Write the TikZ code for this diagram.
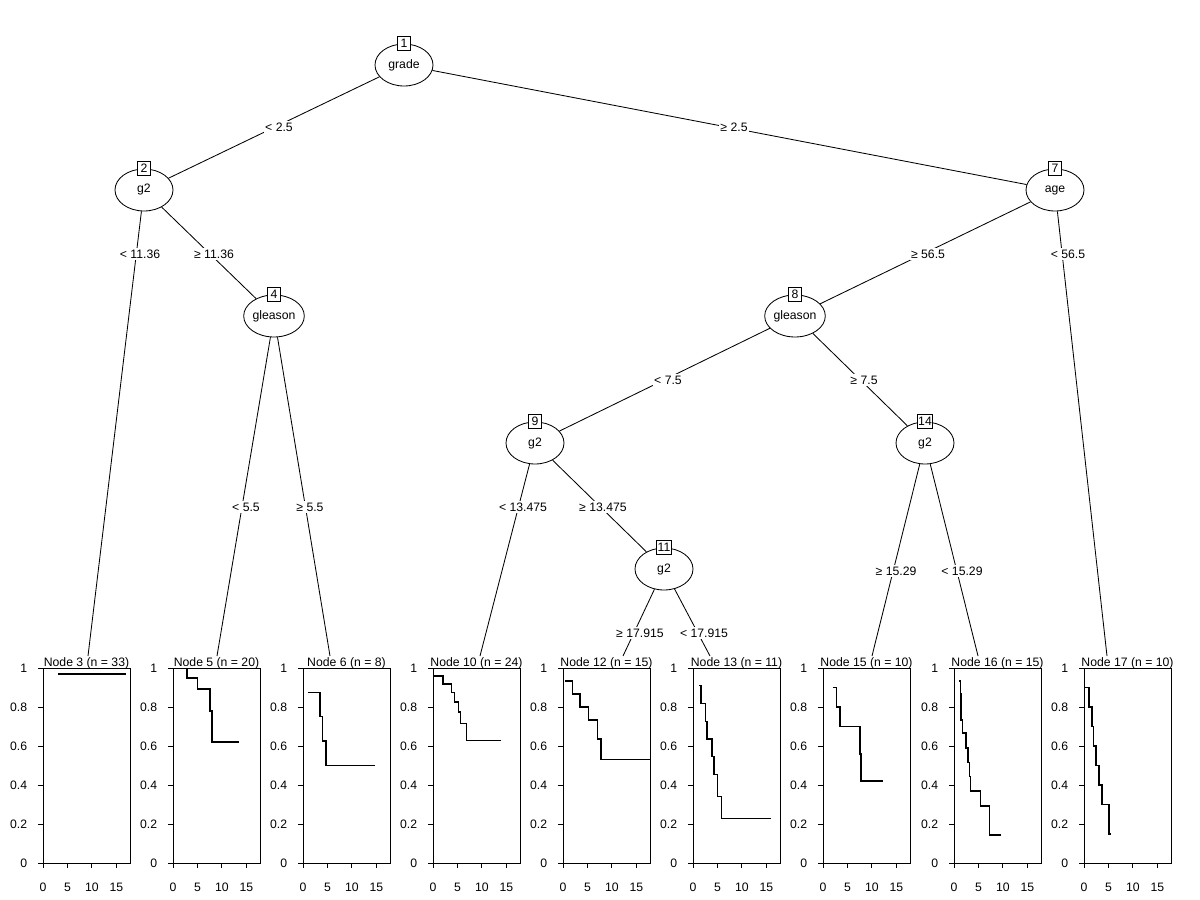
\documentclass[tikz,border=0pt]{standalone}
\usepackage{fontspec}
\setmainfont{Liberation Sans}
\usetikzlibrary{shapes.geometric, positioning}
\tikzset{
    % tree nodes
    splitnode/.style={
        ellipse,
        draw,
        line width=0.6pt,
        minimum width=14.5mm,
        minimum height=10.5mm,
        inner sep=0pt
    },
    idbox/.style={
        rectangle,
        draw,
        fill=white,
        line width=0.6pt,
        minimum size=3.4mm,
        inner sep=0.6pt
    },
    edge/.style={
        line width=0.6pt
    },
    edgelabel/.style={
        fill=white,
        inner sep=1pt
    },
    % terminal panels
    paneltitle/.style={
        anchor=base,
        inner sep=1pt
    },
    panelbox/.style={
        line width=0.7pt
    },
    ticklabel/.style={
        inner sep=0pt
    },
    kmcurve/.style={
        line width=1pt,
        line join=miter
    }
}
% one Kaplan-Meier panel: left edge (px), node id, n, step curve
\newcommand{\kmpanel}[4]{%
    \node[paneltitle] (t#2) at (#1+43.5,666) {Node #2 (n = #3)};
    \draw[panelbox] (#1,668) rectangle (#1+87,863);
    \foreach \v [count=\i] in {0,0.2,0.4,0.6,0.8,1}
        \draw[panelbox] (#1,863-195*\v) -- ++(-5,0) node[ticklabel, left=2.6mm] (y#2-\i) {\v};
    \foreach \t [count=\i] in {0,5,10,15}
        \draw[panelbox] (#1+4.89*\t,863) -- ++(0,5) node[ticklabel, below=3.6mm] (x#2-\i) {\t};
    \begin{scope}[shift={(#1,863)}, x=1.2225mm, y=48.75mm]
        \draw[kmcurve] #4;
    \end{scope}
}

\begin{document}
\begin{tikzpicture}[x=0.25mm, y=-0.25mm, font=\fontsize{8.7}{10}\selectfont]
    \useasboundingbox (0,0) rectangle (1200,900);

    % inner nodes
    \node[splitnode] (n1) at (404,65) {grade};
    \node[idbox] (id1) at (n1.north) {1};
    \node[splitnode] (n2) at (144,190) {g2};
    \node[idbox] (id2) at (n2.north) {2};
    \node[splitnode] (n7) at (1055,190) {age};
    \node[idbox] (id7) at (n7.north) {7};
    \node[splitnode] (n4) at (274,316) {gleason};
    \node[idbox] (id4) at (n4.north) {4};
    \node[splitnode] (n8) at (795,316) {gleason};
    \node[idbox] (id8) at (n8.north) {8};
    \node[splitnode] (n9) at (535,443) {g2};
    \node[idbox] (id9) at (n9.north) {9};
    \node[splitnode] (n14) at (925,443) {g2};
    \node[idbox] (id14) at (n14.north) {14};
    \node[splitnode] (n11) at (664,569) {g2};
    \node[idbox] (id11) at (n11.north) {11};

    % terminal nodes
    \kmpanel{43}{3}{33}{(3.07,0.970) -- (16.9,0.970)}
    \kmpanel{173}{5}{20}{(2.86,1) -- (2.86,0.949) -| (4.98,0.892) -| (7.57,0.779) -| (7.98,0.621) -- (13.5,0.621)}
    \kmpanel{303}{6}{8}{(1.02,0.875) -| (3.48,0.75) -| (4.02,0.625) -| (4.7,0.5) -- (14.66,0.5)}
    \kmpanel{433}{10}{24}{(0.27,0.958) -| (2.05,0.917) -| (3.75,0.875) -| (4.43,0.826) -| (5.25,0.774) -| (5.66,0.715) -| (6.82,0.627) -- (13.98,0.627)}
    \kmpanel{563}{12}{15}{(0.48,0.933) -| (1.98,0.867) -| (3.48,0.8) -| (5.25,0.733) -| (7.09,0.636) -| (7.77,0.53) -- (17.8,0.53)}
    \kmpanel{693}{13}{11}{(1.23,0.909) -| (1.64,0.818) -| (2.59,0.727) -| (2.86,0.636) -| (3.89,0.545) -| (4.3,0.455) -| (4.98,0.341) -| (5.8,0.227) -- (16,0.227)}
    \kmpanel{823}{15}{10}{(2.03,0.9) -| (2.7,0.8) -| (3.51,0.7) -| (7.57,0.56) -| (7.77,0.42) -- (12.3,0.42)}
    \kmpanel{954}{16}{15}{(1.09,0.933) -| (1.3,0.867) -| (1.43,0.733) -| (1.7,0.667) -| (2.45,0.59) -| (2.86,0.516) -| (3.14,0.443) -| (3.34,0.369) -| (5.39,0.292) -| (7.23,0.144) -- (9.54,0.144)}
    \kmpanel{1084}{17}{10}{(0.14,0.9) -| (1.02,0.8) -| (1.64,0.7) -| (1.98,0.6) -| (2.45,0.5) -| (3.07,0.4) -| (3.68,0.3) -| (5.11,0.149) -- (5.52,0.149)}

    % where the edges meet the panel titles
    \coordinate (e3) at (88,656);
    \coordinate (e5) at (217,656);
    \coordinate (e6) at (330,656);
    \coordinate (e10) at (480,656);
    \coordinate (e12) at (623,656);
    \coordinate (e13) at (710,656);
    \coordinate (e15) at (872,656);
    \coordinate (e16) at (978,656);
    \coordinate (e17) at (1107,656);

    % edges
    \draw[edge] (n1) -- (n2);
    \draw[edge] (n1) -- (n7);
    \draw[edge] (n2) -- (e3);
    \draw[edge] (n2) -- (n4);
    \draw[edge] (n4) -- (e5);
    \draw[edge] (n4) -- (e6);
    \draw[edge] (n7) -- (n8);
    \draw[edge] (n7) -- (e17);
    \draw[edge] (n8) -- (n9);
    \draw[edge] (n8) -- (n14);
    \draw[edge] (n9) -- (e10);
    \draw[edge] (n9) -- (n11);
    \draw[edge] (n11) -- (e12);
    \draw[edge] (n11) -- (e13);
    \draw[edge] (n14) -- (e15);
    \draw[edge] (n14) -- (e16);

    % split labels
    \node[edgelabel] (l2) at (279,127) {< 2.5};
    \node[edgelabel] (l7) at (734,127) {≥ 2.5};
    \node[edgelabel] (l3) at (140,254) {< 11.36};
    \node[edgelabel] (l4) at (214,254) {≥ 11.36};
    \node[edgelabel] (l8) at (928,254) {≥ 56.5};
    \node[edgelabel] (l17) at (1068,254) {< 56.5};
    \node[edgelabel] (l5) at (246,507) {< 5.5};
    \node[edgelabel] (l6) at (310,507) {≥ 5.5};
    \node[edgelabel] (l9) at (668,380) {< 7.5};
    \node[edgelabel] (l14) at (864,380) {≥ 7.5};
    \node[edgelabel] (l10) at (523,507) {< 13.475};
    \node[edgelabel] (l11) at (603,507) {≥ 13.475};
    \node[edgelabel] (l15) at (896,571) {≥ 15.29};
    \node[edgelabel] (l16) at (962,571) {< 15.29};
    \node[edgelabel] (l12) at (640,633) {≥ 17.915};
    \node[edgelabel] (l13) at (704,633) {< 17.915};
\end{tikzpicture}
\end{document}
